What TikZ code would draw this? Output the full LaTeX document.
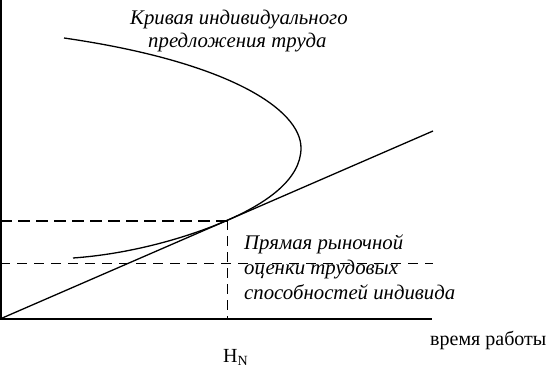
\documentclass[tikz,border=0pt]{standalone}
\usepackage{fontspec}
\setmainfont{Liberation Serif}
\begin{document}
\begin{tikzpicture}[x=1pt,y=-1pt,
  lbl/.style={inner sep=0pt,anchor=base west,font=\fontsize{20.8}{24}\selectfont\itshape},
  axlbl/.style={inner sep=0pt,anchor=base west,font=\fontsize{20}{24}\selectfont},
  thinline/.style={line width=1.2pt},
  curveline/.style={line width=1.3pt},
  dashA/.style={line width=1.8pt,dash pattern=on 12pt off 6pt},
  dashB/.style={line width=1pt,dash pattern=on 10pt off 7pt},
  dashC/.style={line width=1pt,dash pattern=on 10pt off 6pt}]
\useasboundingbox (0,0) rectangle (550,369);
% coordinates
\coordinate (O) at (0,319);
\coordinate (Ytop) at (1,0);
\coordinate (Ybot) at (1,319);
\coordinate (Xend) at (432,319);
\coordinate (Lend) at (433,131);
\coordinate (T) at (227,220.4);
\coordinate (Tleft) at (0,221);
\coordinate (Tbot) at (227,319);
\coordinate (Dleft) at (0,263);
\coordinate (Dright) at (433,263);
\coordinate (Cstart) at (73,258);
\coordinate (Ctip) at (301,148);
\coordinate (Cend) at (64,38);
% axes
\draw[line width=2pt] (Ytop) -- (Ybot);
\draw[thinline] (O) -- (Xend);
% dashed lines
\draw[dashA] (Tleft) -- (T |- Tleft);
\draw[dashB] (Dleft) -- (Dright);
\draw[dashC] (T) -- (Tbot);
% market line
\draw[curveline] (O) -- (Lend);
% supply curve
\draw[curveline] (Cstart) .. controls (130,254) and (187,237.8) .. (T)
  .. controls (265,203.9) and (301,180) .. (Ctip)
  .. controls (301,110) and (230,62) .. (Cend);
% labels
\node[lbl] (k1) at (130,25) {Кривая индивидуального};
\node[lbl] (k2) at (148,48) {предложения труда};
\node[lbl] (p1) at (244,250) {Прямая рыночной};
\node[lbl] (p2) at (244,274) {оценки трудовых};
\node[lbl] (p3) at (244,299) {способностей индивида};
\node[axlbl] (xl) at (430,345) {время работы};
\node[inner sep=0pt,anchor=base west,font=\fontsize{20}{24}\selectfont] (hn) at (223,362) {H\textsubscript{N}};
\end{tikzpicture}
\end{document}
